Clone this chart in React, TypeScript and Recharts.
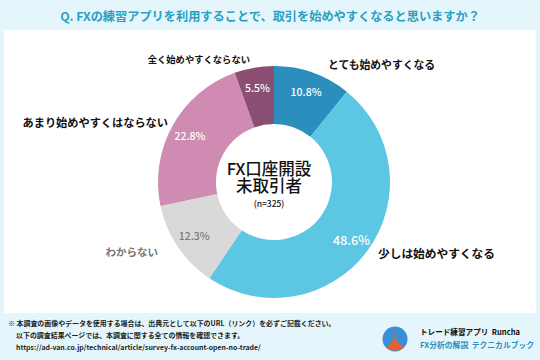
import { PieChart, Pie, Cell } from 'recharts';

// Survey answers, clockwise from 12 o'clock
const answers = [
  'とても始めやすくなる',
  '少しは始めやすくなる',
  'わからない',
  'あまり始めやすくはならない',
  '全く始めやすくならない',
];
const shares = [10.8, 48.6, 12.3, 22.8, 5.5];

const sliceColors = ['#2b8ebd', '#5bc7e2', '#d9d9d9', '#d08bb2', '#8b4f73'];
const pctColors = ['#ffffff', '#ffffff', '#7a7a7a', '#ffffff', '#ffffff'];

// where each category name sits, relative to the pie centre
const namePlacement = [
  { dx: 54, dy: -118, anchor: 'start', size: 10.8, color: '#111' },
  { dx: 104, dy: 70, anchor: 'start', size: 11.7, color: '#111' },
  { dx: -116, dy: 69, anchor: 'end', size: 10.5, color: '#777' },
  { dx: -106, dy: -60, anchor: 'end', size: 11.2, color: '#111' },
  { dx: -24, dy: -123, anchor: 'end', size: 9.3, color: '#111' },
];

const data = answers.map((name, i) => ({ name, value: shares[i] }));

const FONT = '"Noto Sans CJK JP", "Noto Sans", sans-serif';
const RAD = Math.PI / 180;

function renderLabel(props: any) {
  const { cx, cy, midAngle, innerRadius, outerRadius, index, value } = props;
  const r = innerRadius + (outerRadius - innerRadius) * 0.66;
  const x = cx + r * Math.cos(-midAngle * RAD);
  const y = cy + r * Math.sin(-midAngle * RAD);
  const p = namePlacement[index];
  return (
    <g key={`lbl-${index}`}>
      <text x={x} y={y} fill={pctColors[index]} textAnchor="middle" dominantBaseline="central"
        fontSize={value > 40 ? 12.5 : 10.5} fontWeight={500} fontFamily={FONT}>
        {value.toFixed(1)}%
      </text>
      <text x={cx + p.dx} y={cy + p.dy} fill={p.color} textAnchor={p.anchor} dominantBaseline="central"
        fontSize={p.size} fontWeight={700} fontFamily={FONT}>
        {answers[index]}
      </text>
    </g>
  );
}

const caption = { position: 'absolute' as const, left: 209, width: 120, textAlign: 'center' as const, color: '#111', fontWeight: 500 };

export default function App() {
  return (
    <div style={{ position: 'absolute', left: 0, top: 0, width: 540, height: 360, background: '#e4f6fb', fontFamily: FONT, overflow: 'hidden' }}>
      <div style={{ position: 'absolute', left: 0, top: 0, width: 540, height: 30, textAlign: 'center', lineHeight: '32px', fontSize: 12.2, fontWeight: 700, color: '#2a9fc2', whiteSpace: 'nowrap' }}>
        Q. FXの練習アプリを利用することで、取引を始めやすくなると思いますか？
      </div>
      <div style={{ position: 'absolute', left: 4, top: 30, width: 532, height: 283, background: '#fff' }} />

      <div style={{ position: 'absolute', left: 0, top: 0 }}>
        <PieChart width={540} height={360}>
          <Pie
            data={data}
            dataKey="value"
            nameKey="name"
            cx={269}
            cy={177}
            innerRadius={58}
            outerRadius={116}
            startAngle={90}
            endAngle={-270}
            stroke="none"
            label={renderLabel}
            labelLine={false}
            isAnimationActive={false}
          >
            {data.map((d, i) => (
              <Cell key={d.name} fill={sliceColors[i]} />
            ))}
          </Pie>
        </PieChart>
      </div>

      {/* centre caption */}
      <div style={{ ...caption, top: 159.5, fontSize: 16.5, lineHeight: '17px' }}>
        FX口座開設<br />未取引者
      </div>
      <div style={{ ...caption, top: 197.5, fontSize: 8.5, lineHeight: '11px' }}>(n=325)</div>

      {/* footer note */}
      <div style={{ position: 'absolute', left: 8, top: 317, fontSize: 6.95, fontWeight: 700, color: '#222', lineHeight: '12px', whiteSpace: 'nowrap' }}>
        <div>※ 本調査の画像やデータを使用する場合は、出典元として以下のURL（リンク）を必ずご記載ください。</div>
        <div style={{ paddingLeft: 8 }}>以下の調査結果ページでは、本調査に関する全ての情報を確認できます。</div>
        <div style={{ paddingLeft: 8 }}>https://ad-van.co.jp/technical/article/survey-fx-account-open-no-trade/</div>
      </div>

      {/* logo */}
      <svg style={{ position: 'absolute', left: 382, top: 326 }} width={26} height={26} viewBox="0 0 26 26">
        <circle cx={13} cy={13} r={12.5} fill="#3b8fd6" />
        <path d="M13 2 L14 14 L22 22 Q13 27 4 22 L12 14 Z" fill="#e8612c" />
      </svg>
      <div style={{ position: 'absolute', left: 420, top: 326, fontSize: 7.6, fontWeight: 700, color: '#111', whiteSpace: 'nowrap', lineHeight: '12px' }}>
        トレード練習アプリ&nbsp; Runcha
      </div>
      <div style={{ position: 'absolute', left: 420, top: 339, fontSize: 7.8, fontWeight: 700, color: '#2b8ebd', whiteSpace: 'nowrap', lineHeight: '12px' }}>
        FX分析の解説&nbsp; テクニカルブック
      </div>
    </div>
  );
}
